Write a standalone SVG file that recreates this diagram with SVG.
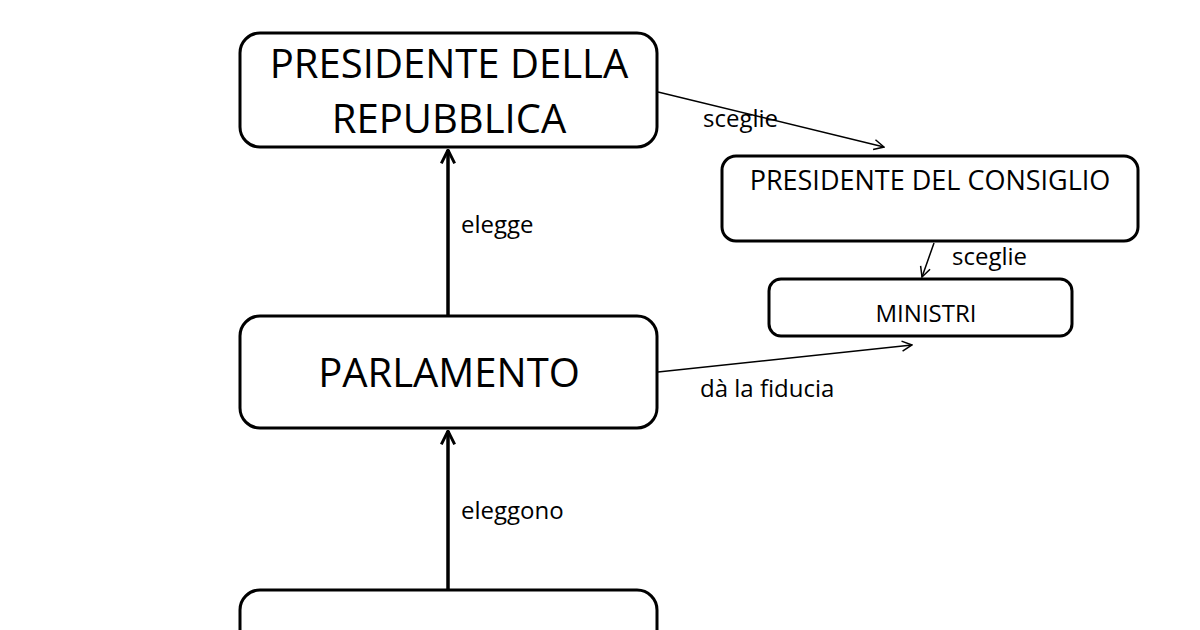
<svg xmlns="http://www.w3.org/2000/svg" width="1200" height="630" viewBox="0 0 1200 630">
<style>
.box{fill:#fff;stroke:#000;stroke-width:3}
.t{font-family:"Open Sans","Liberation Sans",sans-serif;fill:#000;text-anchor:middle}
.l{font-family:"Open Sans","Liberation Sans",sans-serif;fill:#000;font-size:24px}
.thick{stroke:#000;stroke-width:3.5;fill:none}
.thin{stroke:#000;stroke-width:1.5;fill:none}
</style>
<defs>
<marker id="ah" viewBox="0 0 12 12" refX="11" refY="6" markerWidth="12" markerHeight="12" markerUnits="userSpaceOnUse" orient="auto">
<polyline points="1,1 11,6 1,11" fill="none" stroke="#000" stroke-width="1.5"/>
</marker>
<marker id="ahT" viewBox="0 0 12 12" refX="11" refY="6" markerWidth="16" markerHeight="16" markerUnits="userSpaceOnUse" orient="auto">
<polyline points="1,1 11,6 1,11" fill="none" stroke="#000" stroke-width="2.2"/>
</marker>
</defs>
<rect width="1200" height="630" fill="#fff"/>
<g id="connectors">
<line class="thick" x1="448" y1="316" x2="448" y2="150" marker-end="url(#ahT)"/>
<line class="thick" x1="448" y1="590" x2="448" y2="431" marker-end="url(#ahT)"/>
<line class="thin" x1="658" y1="92" x2="884" y2="147" marker-end="url(#ah)"/>
<line class="thin" x1="934" y1="243" x2="922" y2="277" marker-end="url(#ah)"/>
<line class="thin" x1="658" y1="372" x2="912" y2="345" marker-end="url(#ah)"/>
<text class="l" x="461" y="233">elegge</text>
<text class="l" x="461" y="519">eleggono</text>
<text class="l" x="703" y="127">sceglie</text>
<text class="l" x="952" y="265">sceglie</text>
<text class="l" x="700" y="397">dà la fiducia</text>
</g>
<g id="presidente-repubblica">
<rect class="box" x="240" y="33" width="417" height="114" rx="20"/>
<text class="t" x="449" y="78" font-size="40">PRESIDENTE DELLA</text>
<text class="t" x="449" y="133" font-size="40">REPUBBLICA</text>
</g>
<g id="presidente-consiglio">
<rect class="box" x="722" y="156" width="416" height="85" rx="14"/>
<text class="t" x="930" y="190" font-size="27">PRESIDENTE DEL CONSIGLIO</text>
</g>
<g id="ministri">
<rect class="box" x="769" y="279" width="303" height="57" rx="12"/>
<text class="t" x="926" y="322" font-size="24">MINISTRI</text>
</g>
<g id="parlamento">
<rect class="box" x="240" y="316" width="417" height="112" rx="20"/>
<text class="t" x="449" y="387" font-size="40">PARLAMENTO</text>
</g>
<g id="popolo">
<rect class="box" x="240" y="590" width="417" height="80" rx="20"/>
</g>
</svg>
